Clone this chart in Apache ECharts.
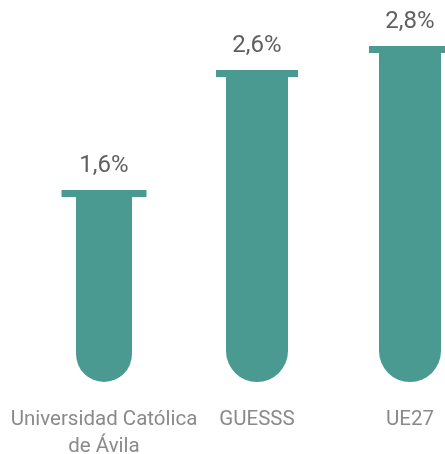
<!DOCTYPE html>
<html>
<head>
<meta charset="utf-8">
<script src="https://cdn.jsdelivr.net/npm/echarts@6/dist/echarts.min.js"></script>
<style>html,body{margin:0;padding:0;background:#fff}#c{width:445px;height:454px}</style>
</head>
<body>
<div id="c"></div>
<script>
var categories = ['Universidad Católica\nde Ávila', 'GUESSS', 'UE27'];
var values = [1.6, 2.6, 2.8];
var tubeWidths = [56, 62, 62];
var capWidths = [85, 82, 82];

var chart = echarts.init(document.getElementById('c'));
chart.setOption({
  animation: false,
  grid: { left: 104, right: 35, top: 22, bottom: 72, outerBoundsMode: 'none', containLabel: false },
  xAxis: {
    type: 'category', data: categories, boundaryGap: false,
    axisLine: { show: false }, axisTick: { show: false },
    axisLabel: { interval: 0, margin: 24, color: '#8a8a8a', fontSize: 20.5, lineHeight: 27,
      fontFamily: 'Roboto, sans-serif', hideOverlap: false }
  },
  yAxis: { type: 'value', min: 0, max: 3, show: false, splitLine: { show: false } },
  series: [{
    type: 'custom',
    data: values,
    renderItem: function (params, api) {
      var i = params.dataIndex;
      var v = api.value(0);
      var top = api.coord([i, v]);
      var base = api.coord([i, 0]);
      var tw = tubeWidths[i], cw = capWidths[i];
      var color = '#4a9a92';
      return {
        type: 'group',
        children: [
          { type: 'rect', shape: { x: top[0] - tw / 2, y: top[1], width: tw, height: base[1] - top[1], r: [0, 0, tw / 2, tw / 2] }, style: { fill: color } },
          { type: 'rect', shape: { x: top[0] - cw / 2, y: top[1], width: cw, height: 7 }, style: { fill: color } },
          { type: 'text', x: top[0], y: top[1] - 24, style: { text: String(v).replace('.', ',') + '%', fill: '#606060', font: '24px Roboto, sans-serif', align: 'center', verticalAlign: 'middle' } }
        ]
      };
    },
    encode: { x: -1, y: 0 }
  }]
});
</script>
</body>
</html>
